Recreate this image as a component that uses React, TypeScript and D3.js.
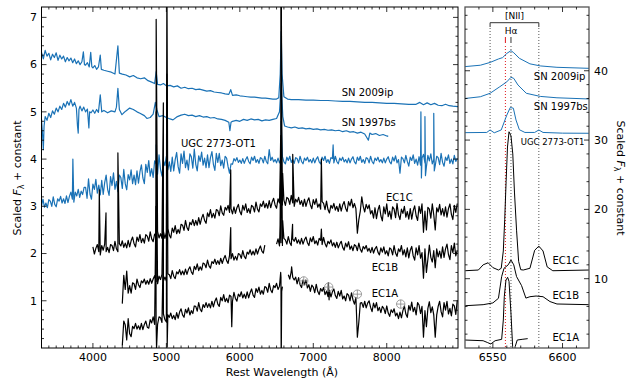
import React from 'react'
import * as d3 from 'd3'

type Pt = [number, number | null]

// ---- left panel: blue comparison spectra (rest wavelength, scaled flux + constant) ----
const sn2009ip: Pt[] = [
  [3300,6.26],[3325,6.12],[3350,6.3],[3375,6.18],[3400,6.24],[3425,6.1],[3450,6.22],[3475,6.15],[3500,6.25],[3525,6.09],
  [3550,6.2],[3575,6.12],[3600,6.18],[3625,6.06],[3650,6.15],[3675,6.08],[3700,6.14],[3725,6.04],[3750,6.12],[3775,6.02],
  [3800,6.08],[3825,6.0],[3850,6.06],[3870,6.27],[3885,6.0],[3900,5.99],[3925,6.04],[3950,5.95],[3970,6.26],[3985,5.96],
  [4000,5.93],[4025,5.98],[4050,5.9],[4075,5.95],[4100,6.2],[4115,5.9],[4150,5.88],[4200,5.86],[4250,5.84],[4300,5.8],
  [4340,6.4],[4360,5.82],[4400,5.8],[4450,5.78],[4500,5.74],[4550,5.77],[4600,5.72],[4650,5.7],[4700,5.72],[4750,5.66],
  [4800,5.63],[4840,5.6],[4861,5.85],[4880,5.58],[4920,5.57],[4960,5.6],[5000,5.55],[5050,5.56],[5100,5.53],[5150,5.55],
  [5200,5.5],[5250,5.52],[5300,5.49],[5350,5.5],[5400,5.47],[5450,5.48],[5500,5.46],[5550,5.44],[5600,5.45],[5650,5.42],
  [5700,5.41],[5750,5.4],[5800,5.38],[5850,5.37],[5876,5.47],[5900,5.35],[5950,5.36],[6000,5.34],[6050,5.33],[6100,5.32],
  [6150,5.31],[6200,5.31],[6250,5.3],[6300,5.29],[6350,5.29],[6400,5.28],[6450,5.27],[6500,5.27],[6530,5.3],[6550,5.8],
  [6563,6.7],[6575,5.8],[6600,5.32],[6650,5.27],[6700,5.26],[6800,5.26],[6900,5.25],[7000,5.25],[7100,5.24],[7200,5.24],
  [7300,5.23],[7400,5.22],[7500,5.22],[7600,5.21],[7700,5.2],[7800,5.2],[7900,5.19],[8000,5.18],[8100,5.18],[8200,5.17],
  [8300,5.16],[8400,5.16],[8450,5.2],[8500,5.15],[8550,5.19],[8600,5.15],[8650,5.18],[8700,5.14],[8750,5.13],[8800,5.16],
  [8850,5.13],[8900,5.12],[8970,5.11],
]

const sn1997bs: Pt[] = [
  [3300,4.85],[3315,4.5],[3325,4.2],[3335,4.7],[3350,4.9],[3375,4.82],[3400,4.97],[3425,4.88],[3450,5.02],[3475,4.95],
  [3500,5.08],[3525,5.0],[3550,5.12],[3575,5.05],[3600,5.18],[3625,5.1],[3650,5.22],[3675,5.14],[3700,5.26],[3725,5.12],
  [3750,5.2],[3775,5.08],[3790,4.7],[3800,4.55],[3810,5.05],[3825,5.12],[3850,5.02],[3875,5.1],[3900,5.0],[3925,5.06],
  [3945,4.66],[3955,5.0],[3975,4.98],[4000,5.04],[4025,4.97],[4050,5.05],[4075,4.99],[4100,5.36],[4120,5.0],[4150,5.03],
  [4200,4.98],[4250,5.02],[4300,5.0],[4320,5.1],[4340,5.5],[4360,5.05],[4395,4.94],[4420,4.98],[4450,5.02],[4500,5.08],
  [4550,5.05],[4600,5.0],[4640,4.97],[4700,4.92],[4735,4.86],[4780,4.88],[4820,4.95],[4850,5.2],[4870,5.05],[4900,4.9],
  [4950,4.92],[5000,4.88],[5050,4.85],[5090,4.83],[5150,4.9],[5200,4.93],[5250,4.95],[5300,4.92],[5350,4.93],[5400,4.9],
  [5450,4.92],[5500,4.89],[5550,4.9],[5600,4.87],[5650,4.88],[5700,4.85],[5750,4.84],[5800,4.82],[5850,4.78],[5865,4.6],
  [5880,4.78],[5900,4.8],[5950,4.82],[6000,4.8],[6050,4.84],[6100,4.82],[6150,4.85],[6200,4.83],[6250,4.84],[6300,4.81],
  [6350,4.83],[6400,4.82],[6450,4.84],[6500,4.86],[6540,5.0],[6563,5.6],[6585,4.9],[6610,4.7],[6650,4.68],[6700,4.66],
  [6750,4.68],[6800,4.65],[6850,4.66],[6900,4.64],[6950,4.65],[7000,4.63],[7050,4.64],[7100,4.62],[7150,4.63],[7200,4.61],
  [7250,4.62],[7300,4.6],[7350,4.61],[7400,4.58],[7450,4.6],[7500,4.57],[7550,4.58],[7600,4.55],[7650,4.57],[7700,4.53],
  [7750,4.4],[7770,4.55],[7800,4.52],[7850,4.54],[7900,4.5],[7950,4.52],[8000,4.49],[8020,4.48],
]

// ---- sampled spectra: flux every 20 A from the start wavelength, plus narrow lines ----
const ugcStart = 3300
const ugcFlux = [
  3.01,3.15,2.98,3.07,2.97,3.14,3.11,3.0,3.2,3.04,
  2.99,3.16,3.11,3.21,3.07,3.16,3.06,3.22,3.08,3.21,
  3.3,3.15,3.09,3.3,3.22,3.36,3.19,3.32,3.25,3.4,
  3.4,3.17,3.58,3.26,3.15,3.47,3.36,3.57,3.28,3.45,
  3.24,3.55,3.25,3.5,3.66,3.36,3.23,3.63,3.44,3.71,
  3.36,3.53,3.31,3.66,3.61,3.38,3.78,3.48,3.35,3.67,
  3.56,3.77,3.48,3.66,3.46,3.75,3.49,3.73,3.88,3.6,
  3.48,3.89,3.72,3.97,3.64,3.8,3.61,3.96,3.9,3.68,
  4.09,3.78,3.64,3.97,3.86,4.06,3.77,3.94,3.74,4.04,
  3.75,3.99,4.14,3.84,3.7,4.11,3.91,4.17,3.82,3.98,
  3.77,4.11,4.05,3.81,4.21,3.89,3.75,4.07,3.95,4.15,
  3.87,4.02,3.82,4.09,3.82,4.03,4.16,3.89,3.76,4.12,
  3.93,4.12,3.86,3.98,3.81,4.06,4.02,3.84,3.7,3.9,
  3.89,4.01,3.96,4.03,3.93,3.98,3.91,4.01,3.91,3.99,
  4.05,3.95,3.9,4.04,3.97,4.06,3.93,3.99,3.91,4.03,
  4.01,3.92,4.06,3.95,3.9,4.2,3.97,4.04,3.94,3.99,
  3.92,4.02,3.92,4.0,4.05,3.94,3.9,4.04,3.97,4.06,
  3.93,3.99,3.91,4.03,4.01,3.92,4.06,3.95,3.9,4.02,
  3.97,4.04,3.94,3.99,3.92,4.02,3.92,4.0,4.05,3.94,
  3.9,4.04,3.97,4.06,3.93,3.99,3.91,4.03,4.01,3.92,
  4.06,3.95,3.9,4.02,3.97,4.04,3.94,3.99,3.92,4.02,
  3.92,4.0,4.05,3.94,3.9,4.04,3.97,4.06,3.93,3.99,
  3.91,4.03,4.01,3.92,4.06,3.95,3.9,4.02,3.97,4.04,
  3.94,3.99,3.92,4.02,3.92,4.0,4.05,3.94,3.9,4.04,
  3.96,4.07,3.92,3.99,3.7,4.04,4.01,3.92,4.08,3.95,
  3.85,4.04,3.97,4.09,3.91,4.0,3.87,4.05,3.87,4.02,
  4.1,3.92,3.84,4.08,3.96,4.11,3.9,3.99,3.86,4.06,
  4.03,3.88,4.12,3.93,3.85,4.04,3.97,4.09,3.91,4.0,
  3.9,4.08,3.95,4.02,
]
const ugcLines: Pt[] = [
  [3727,4.0],[4861,4.3],[6563,4.8],[7270,4.3],[8465,5.0],[8472,3.6],[8520,4.9],[8527,3.65],[8640,4.97],[8647,3.75],
]

const ec1cStart = 4000
const ec1cFlux = [
  2.14,1.99,2.11,2.19,2.04,1.97,2.17,2.07,2.2,2.04,
  2.13,2.02,2.19,2.17,2.06,2.26,2.1,2.04,2.21,2.16,
  2.27,2.13,2.22,2.12,2.28,2.14,2.27,2.35,2.21,2.14,
  2.35,2.26,2.4,2.23,2.32,2.22,2.4,2.37,2.26,2.46,
  2.31,2.25,2.41,2.36,2.47,2.33,2.42,2.32,2.47,2.32,
  2.45,2.53,2.39,2.33,2.54,2.45,2.59,2.42,2.51,2.43,
  2.62,2.6,2.49,2.7,2.55,2.49,2.66,2.61,2.72,2.59,
  2.7,2.6,2.76,2.62,2.75,2.83,2.7,2.64,2.86,2.78,
  2.93,2.76,2.85,2.75,2.93,2.91,2.8,3.01,2.86,2.81,
  2.98,2.92,3.02,2.87,2.95,2.84,2.99,2.85,2.97,3.04,
  2.89,2.82,3.02,2.92,3.05,2.87,2.95,2.85,3.02,2.99,
  2.88,3.09,2.94,2.88,3.05,3.0,3.11,2.97,3.06,2.96,
  3.12,2.97,3.09,3.17,3.03,2.96,3.16,3.07,3.2,3.03,
  3.13,3.02,3.19,3.16,3.04,3.23,3.07,3.0,3.15,3.09,
  3.19,3.04,3.12,3.0,3.15,3.0,3.11,3.18,3.03,2.95,
  3.14,3.04,3.16,2.98,3.05,2.94,3.1,3.06,2.93,3.11,
  2.93,2.86,3.02,2.96,3.06,2.92,3.0,2.89,3.05,2.9,
  3.03,3.1,2.96,2.89,3.1,3.01,3.15,2.97,3.06,2.95,
  2.43,2.72,2.9,3.2,3.0,2.88,3.04,2.95,3.03,2.84,
  2.91,2.75,2.97,2.74,2.92,3.02,2.8,2.69,2.99,2.84,
  3.05,2.78,2.9,2.73,2.99,2.94,2.76,3.06,2.82,2.72,
  2.94,2.85,3.0,2.77,2.89,2.73,2.95,2.73,2.91,3.01,
  2.8,2.7,3.0,2.85,3.05,2.45,2.9,2.5,2.98,2.94,
  2.75,3.05,2.82,2.5,2.97,2.88,3.04,2.82,2.95,2.79,
  2.99,2.77,2.95,3.05,2.83,2.72,3.02,2.87,3.06,
]
const ec1cLines: Pt[] = [
  [4087,3.35],[4178,2.86],[4340,4.13],[4861,6.96],[4959,5.19],[5007,8.0],[5876,3.77],[6548,3.6],[6556,4.5],
  [6563,9.0],[6570,4.5],[6583,3.7],[6720,4.1],[7110,4.0],
]

const ec1bStart = 4400
const ec1bFlux = [
  0.94,1.54,1.24,1.63,1.16,1.32,1.16,1.38,1.36,1.24,
  1.46,1.34,1.28,1.42,1.38,1.46,1.35,1.43,1.35,1.47,
  1.37,1.46,1.53,1.41,1.36,1.52,1.45,1.56,1.42,1.5,
  1.42,1.57,1.55,1.47,1.64,1.52,1.47,1.61,1.57,1.66,
  1.55,1.63,1.55,1.67,1.56,1.66,1.72,1.61,1.56,1.73,
  1.66,1.78,1.64,1.72,1.65,1.8,1.78,1.7,1.86,1.74,
  1.69,1.83,1.79,1.88,1.77,1.85,1.77,1.9,1.79,1.89,
  1.96,1.85,1.79,1.96,1.89,2.0,1.86,1.94,1.86,2.0,
  1.98,1.9,2.06,1.94,1.89,2.03,1.99,2.08,1.97,2.05,
  1.97,2.1,1.99,2.09,2.16,2.05,2.01,2.18,null,null,
  null,null,null,null,null,2.2,2.31,2.16,2.23,2.17,
  2.32,2.29,2.2,2.36,2.23,2.17,2.31,2.26,2.34,2.22,
  2.29,2.2,2.32,2.2,2.29,2.35,2.23,2.17,2.33,2.25,
  2.36,2.21,2.27,2.18,2.32,2.28,2.19,2.34,2.21,2.14,
  2.26,2.21,2.29,2.16,2.23,2.13,2.24,2.12,2.2,2.26,
  2.13,2.07,2.22,2.14,2.25,2.09,2.16,2.06,2.19,2.16,
  2.06,2.22,2.09,2.03,2.15,2.1,2.17,2.05,2.11,2.02,
  2.13,2.01,2.1,2.15,2.03,1.97,2.12,2.03,2.14,1.99,
  2.06,1.95,2.12,2.09,1.97,2.17,2.01,1.94,2.1,2.04,
  2.17,1.97,2.08,1.93,2.12,1.91,2.07,2.15,1.95,1.86,
  2.12,1.97,2.17,1.9,2.02,1.48,2.1,1.6,1.88,2.18,
  1.92,1.82,2.06,1.7,2.1,1.93,2.05,1.9,2.14,1.92,
  2.1,2.2,1.98,1.87,2.17,2.02,2.22,1.95,2.07,
]
const ec1bLines: Pt[] = [
  [4861,5.0],[4959,3.4],[5007,5.8],[5876,2.55],[6548,2.6],[6556,4.0],[6563,9.0],[6570,4.0],[6583,2.7],
  [6718,2.62],[7110,2.52],
]

const ec1aStart = 4400
const ec1aFlux = [
  0.05,0.57,0.49,0.17,0.62,0.3,0.24,0.46,0.41,0.52,
  0.4,0.47,0.39,0.52,0.39,0.5,0.57,0.44,0.42,0.6,
  0.53,0.66,0.5,0.58,0.5,0.66,0.64,0.54,0.72,0.6,
  0.55,0.7,0.65,0.74,0.62,0.69,0.6,0.75,0.63,0.76,
  0.83,0.7,0.65,0.82,0.74,0.85,0.7,0.79,0.73,0.89,
  0.88,0.78,0.96,0.82,0.77,0.92,0.86,0.96,0.86,0.94,
  0.85,0.99,0.87,0.99,1.06,0.93,0.88,1.07,1.0,1.13,
  0.98,1.05,0.96,1.12,1.09,0.99,1.18,1.05,0.99,1.14,
  1.09,1.19,1.06,1.14,1.05,1.19,1.06,1.17,1.25,1.12,
  1.07,1.26,1.18,1.29,1.14,1.22,1.14,1.3,1.28,1.18,
  1.37,1.23,1.17,1.32,1.28,1.37,1.24,1.31,1.5,1.3,
  null,null,null,1.55,1.46,1.62,1.5,1.44,1.5,1.36,
  1.49,1.34,1.28,1.44,1.34,1.44,1.27,1.34,1.2,1.33,
  1.29,1.17,1.35,1.2,1.13,1.26,1.2,1.28,1.13,1.2,
  1.09,1.22,1.08,1.19,1.25,1.11,1.05,1.2,1.1,1.22,
  1.04,1.1,1.0,1.15,1.12,1.0,1.17,1.02,0.93,1.07,
  0.23,0.55,0.95,0.96,0.86,0.99,0.85,0.95,1.0,0.86,
  0.77,0.95,0.85,0.96,0.79,0.86,0.75,0.88,0.84,0.73,
  0.89,0.74,0.67,0.81,0.75,0.83,0.68,0.74,0.62,0.76,
  0.64,0.79,0.89,0.72,0.65,0.9,0.8,0.97,0.77,0.86,
  0.7,0.96,0.91,0.73,0.88,0.23,0.79,0.45,0.84,0.98,
  0.75,0.87,0.7,0.23,0.7,0.88,0.99,0.77,0.66,0.96,
  0.8,0.99,0.72,0.84,0.68,0.93,0.89,0.71,1.01,
]
const ec1aLines: Pt[] = [
  [4858,3.0],[4866,0.0],[4959,2.2],[5004,3.5],[5011,0.02],[5890,0.45],[6556,1.6],[6563,-0.4],[6570,1.2],
  [6705,1.72],[7205,1.38],[7215,1.02],
]

// telluric features marked on EC1A
const telluric: Pt[] = [[6870,1.42],[7210,1.29],[7600,1.14],[8190,0.93]]

// ---- right panel: H-alpha region ----
const hz2009ip: Pt[] = [
  [6530,40.6],[6541,40.8],[6548,41.2],[6554,41.7],[6557,41.9],[6560,42.5],[6563,42.9],[6565,42.6],[6569,41.8],
  [6576.6,41.0],[6584,40.7],[6596,40.5],[6619,40.35],
]
const hz1997bs: Pt[] = [
  [6530,36.0],[6541,36.25],[6548,36.75],[6555,37.7],[6560,38.4],[6563,39.06],[6565,38.9],[6568,37.95],[6574,36.75],
  [6584,36.3],[6596,36.1],[6619,35.93],
]
const hzUgc: Pt[] = [
  [6530,31.07],[6545.6,31.1],[6548,31.46],[6551,31.05],[6556,31.46],[6560,33.6],[6562.5,34.7],[6564.7,34.6],[6566.6,32.9],
  [6569,31.5],[6573,31.1],[6580,31.1],[6583,31.46],[6586,31.1],[6600,31.0],[6619,30.98],
]
const hzEc1c: Pt[] = [
  [6530,11.15],[6539.6,11.25],[6543,12.0],[6546.6,12.3],[6550,11.6],[6554,11.25],[6556,11.5],[6557.5,14],[6558.5,18.5],
  [6559.5,24],[6560.5,29],[6561.6,31.2],[6563,30.6],[6564.3,28],[6565.5,22.5],[6567,17],[6568.5,12.5],[6570,11.3],
  [6571.8,11.25],[6576.6,11.5],[6580,14.1],[6583,14.7],[6586,14.0],[6589,11.7],[6593,11.15],[6619,11.25],
]
const hzEc1b: Pt[] = [
  [6530,6.1],[6543,6.25],[6550,6.5],[6554,7.17],[6556.3,10.3],[6558,11.5],[6561,12.0],[6563,12.7],[6565,12.0],[6567,10.3],
  [6570.6,9.0],[6573.7,7.2],[6576.6,7.4],[6581,7.5],[6586,7.4],[6591,6.7],[6596,6.35],[6619,6.25],
]
const hzEc1a: Pt[] = [
  [6530,1.15],[6543,1.05],[6546,0.8],[6548.5,0.58],[6551.6,1.05],[6556.3,1.25],[6557.5,4.04],[6558.2,7.4],[6559.4,9.8],
  [6560.6,10.2],[6561.6,9.6],[6563,5.0],[6564.2,0.19],[6565,-2],[6566,0.2],[6567.5,1.15],[6571,1.25],[6575,1.35],
]

const leftXTicks = [4000, 5000, 6000, 7000, 8000]
const leftYTicks = [1, 2, 3, 4, 5, 6, 7]
const rightXTicks = [6550, 6600]
const rightYTicks = [10, 20, 30, 40]
const nii = [6548, 6583]
const halpha = 6563
const redLine = 6559

const blue = '#1a72b6'
const font = 'DejaVu Sans, sans-serif'

const L = { x0: 41.5, x1: 458, y0: 7, y1: 348 }
const R = { x0: 465, x1: 589, y0: 7, y1: 348 }

const xL = d3.scaleLinear().domain([3300, 8970]).range([L.x0, L.x1])
const yL = d3.scaleLinear().domain([0, 7.22]).range([L.y1, L.y0])
const xR = d3.scaleLinear().domain([6530, 6619]).range([R.x0, R.x1])
const yR = d3.scaleLinear().domain([0, 49.2]).range([R.y1, R.y0])

// sampled flux on a 20 A grid merged with the narrow line points
function sampled(start: number, flux: (number | null)[], lines: Pt[]): Pt[] {
  const pts: Pt[] = flux.map((f, i) => [start + 20 * i, f] as Pt)
  return pts.concat(lines).sort((a, b) => a[0] - b[0])
}

function pathFor(data: Pt[], x: any, y: any) {
  return d3.line<Pt>()
    .defined(d => d[1] !== null)
    .x(d => x(d[0]))
    .y(d => y(d[1] as number))(data) || ''
}

function Ticks({ box, xs, xsMinor, ys, ysMinor, x, y }: any) {
  const out: any[] = []
  const maj = 5, mn = 2.5
  xs.forEach((v: number, i: number) => {
    out.push(<line key={'xb' + i} x1={x(v)} x2={x(v)} y1={box.y1} y2={box.y1 - maj} />)
    out.push(<line key={'xt' + i} x1={x(v)} x2={x(v)} y1={box.y0} y2={box.y0 + maj} />)
  })
  xsMinor.forEach((v: number, i: number) => {
    out.push(<line key={'xmb' + i} x1={x(v)} x2={x(v)} y1={box.y1} y2={box.y1 - mn} />)
    out.push(<line key={'xmt' + i} x1={x(v)} x2={x(v)} y1={box.y0} y2={box.y0 + mn} />)
  })
  ys.forEach((v: number, i: number) => {
    out.push(<line key={'yl' + i} x1={box.x0} x2={box.x0 + maj} y1={y(v)} y2={y(v)} />)
    out.push(<line key={'yr' + i} x1={box.x1} x2={box.x1 - maj} y1={y(v)} y2={y(v)} />)
  })
  ysMinor.forEach((v: number, i: number) => {
    out.push(<line key={'yml' + i} x1={box.x0} x2={box.x0 + mn} y1={y(v)} y2={y(v)} />)
    out.push(<line key={'ymr' + i} x1={box.x1} x2={box.x1 - mn} y1={y(v)} y2={y(v)} />)
  })
  return <g stroke="#000" strokeWidth={0.8}>{out}</g>
}

function YLabel({ x, y, rot }: { x: number, y: number, rot: number }) {
  return (
    <text transform={`translate(${x},${y}) rotate(${rot})`} fontSize={11} textAnchor="middle">
      Scaled <tspan fontStyle="italic">F</tspan><tspan fontSize={8} dy={3}>λ</tspan><tspan dy={-3}> + constant</tspan>
    </text>
  )
}

export default function App() {
  const leftMinorX = d3.range(3400, 8970, 100).filter(v => v % 1000 !== 0)
  const leftMinorY = d3.range(0.2, 7.2, 0.2).filter(v => Math.abs(v - Math.round(v)) > 0.01)
  const rightMinorX = d3.range(6540, 6619, 10).filter(v => v % 50 !== 0)
  const rightMinorY = d3.range(2, 49, 2).filter(v => v % 10 !== 0)

  const ugc2773 = sampled(ugcStart, ugcFlux, ugcLines)
  const ec1c = sampled(ec1cStart, ec1cFlux, ec1cLines)
  const ec1b = sampled(ec1bStart, ec1bFlux, ec1bLines)
  const ec1a = sampled(ec1aStart, ec1aFlux, ec1aLines)

  const leftBlue = [sn2009ip, sn1997bs, ugc2773]
  const leftBlack = [ec1c, ec1b, ec1a]
  const rightBlue = [hz2009ip, hz1997bs, hzUgc]
  const rightBlack = [hzEc1c, hzEc1b, hzEc1a]

  const leftLabels = [
    { t: 'SN 2009ip', w: 7387, f: 5.34 },
    { t: 'SN 1997bs', w: 7387, f: 4.7 },
    { t: 'UGC 2773-OT1', w: 5199, f: 4.26 },
    { t: 'EC1C', w: 7990, f: 3.11 },
    { t: 'EC1B', w: 7795, f: 1.63 },
    { t: 'EC1A', w: 7795, f: 1.08 },
  ]
  const rightLabels = [
    { t: 'SN 2009ip', w: 6579.4, f: 38.7, s: 10 },
    { t: 'SN 1997bs', w: 6579.4, f: 34.3, s: 10 },
    { t: 'UGC 2773-OT1', w: 6570, f: 29.3, s: 8.5 },
    { t: 'EC1C', w: 6592.8, f: 12.05, s: 10 },
    { t: 'EC1B', w: 6592.8, f: 7.0, s: 10 },
    { t: 'EC1A', w: 6592.8, f: 0.98, s: 10 },
  ]

  const bracketY = 22.7, bracketTick = 27, markTop = 37, markBot = 43

  return (
    <svg width={638} height={386} style={{ display: 'block', position: 'absolute', left: 0, top: 0 }} fontFamily={font}>
      <defs>
        <clipPath id="clipL"><rect x={L.x0} y={L.y0} width={L.x1 - L.x0} height={L.y1 - L.y0} /></clipPath>
        <clipPath id="clipR"><rect x={R.x0} y={R.y0} width={R.x1 - R.x0} height={R.y1 - R.y0} /></clipPath>
      </defs>
      <rect x={0} y={0} width={638} height={386} fill="#fff" />

      {/* left panel */}
      <g clipPath="url(#clipL)" fill="none" strokeWidth={1.2} strokeLinejoin="round">
        {leftBlue.map((s, i) => <path key={'lb' + i} d={pathFor(s, xL, yL)} stroke={blue} />)}
        {leftBlack.map((s, i) => <path key={'lk' + i} d={pathFor(s, xL, yL)} stroke="#000" />)}
      </g>
      <g fill="none" stroke="#888" strokeWidth={0.8}>
        {telluric.map((p, i) => {
          const cx = xL(p[0]), cy = yL(p[1] as number)
          return (
            <g key={'tel' + i}>
              <circle cx={cx} cy={cy} r={4.2} />
              <line x1={cx - 4.2} x2={cx + 4.2} y1={cy} y2={cy} />
              <line x1={cx} x2={cx} y1={cy - 4.2} y2={cy + 4.2} />
            </g>
          )
        })}
      </g>
      {leftLabels.map((l, i) => (
        <text key={'ll' + i} x={xL(l.w)} y={yL(l.f)} fontSize={10}>{l.t}</text>
      ))}
      <rect x={L.x0} y={L.y0} width={L.x1 - L.x0} height={L.y1 - L.y0} fill="none" stroke="#000" strokeWidth={1} />
      <Ticks box={L} xs={leftXTicks} xsMinor={leftMinorX} ys={leftYTicks} ysMinor={leftMinorY} x={xL} y={yL} />
      {leftXTicks.map(v => (
        <text key={'lxt' + v} x={xL(v)} y={361} fontSize={11} textAnchor="middle">{v}</text>
      ))}
      {leftYTicks.map(v => (
        <text key={'lyt' + v} x={37} y={yL(v)} dy="0.35em" fontSize={11} textAnchor="end">{v}</text>
      ))}
      <text x={282} y={376} fontSize={11} textAnchor="middle">Rest Wavelength (Å)</text>
      <YLabel x={21} y={178} rot={-90} />

      {/* right panel */}
      <g fill="none" strokeWidth={1}>
        {nii.map(v => (
          <g key={'nii' + v}>
            <line x1={xR(v)} x2={xR(v)} y1={bracketY} y2={bracketTick} stroke="#333" />
            <line x1={xR(v)} x2={xR(v)} y1={bracketTick + 1} y2={R.y1} stroke="#555" strokeDasharray="1,2" />
          </g>
        ))}
        <line x1={xR(nii[0])} x2={xR(nii[1])} y1={bracketY} y2={bracketY} stroke="#333" />
        <line x1={xR(halpha)} x2={xR(halpha)} y1={markTop} y2={markBot} stroke="#333" />
        <line x1={xR(halpha)} x2={xR(halpha)} y1={markBot + 3} y2={R.y1} stroke="#555" strokeDasharray="1,2" />
        <line x1={xR(redLine)} x2={xR(redLine)} y1={markTop} y2={markBot} stroke="#e0191c" />
        <line x1={xR(redLine)} x2={xR(redLine)} y1={markBot + 3} y2={R.y1} stroke="#e0191c" strokeDasharray="1,2" />
      </g>
      <text x={(xR(nii[0]) + xR(nii[1])) / 2} y={19} fontSize={9} textAnchor="middle">[NII]</text>
      <text x={xR(halpha)} y={34} fontSize={9} textAnchor="middle">Hα</text>
      <g clipPath="url(#clipR)" fill="none" strokeWidth={1}>
        {rightBlue.map((s, i) => <path key={'rb' + i} d={pathFor(s, xR, yR)} stroke={blue} />)}
        {rightBlack.map((s, i) => <path key={'rk' + i} d={pathFor(s, xR, yR)} stroke="#000" />)}
      </g>
      {rightLabels.map((l, i) => (
        <text key={'rl' + i} x={xR(l.w)} y={yR(l.f)} fontSize={l.s}>{l.t}</text>
      ))}
      <rect x={R.x0} y={R.y0} width={R.x1 - R.x0} height={R.y1 - R.y0} fill="none" stroke="#555" strokeWidth={1.3} />
      <Ticks box={R} xs={rightXTicks} xsMinor={rightMinorX} ys={rightYTicks} ysMinor={rightMinorY} x={xR} y={yR} />
      {rightXTicks.map(v => (
        <text key={'rxt' + v} x={xR(v)} y={361} fontSize={11} textAnchor="middle">{v}</text>
      ))}
      {rightYTicks.map(v => (
        <text key={'ryt' + v} x={594} y={yR(v)} dy="0.35em" fontSize={11}>{v}</text>
      ))}
      <YLabel x={617} y={178} rot={90} />
    </svg>
  )
}
